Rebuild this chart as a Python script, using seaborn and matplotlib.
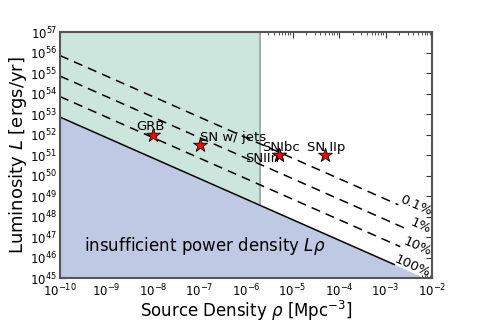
import numpy as np
import matplotlib
matplotlib.use("Agg")
import matplotlib.pyplot as plt
import matplotlib.ticker as mticker
import seaborn as sns

# power density normalisation (L * rho at 100%)
L_rho_100 = 10**42.85
fractions = [1.0, 0.1, 0.01, 0.001]
frac_labels = ["100%", "10%", "1%", "0.1%"]
frac_styles = ["-", "--", "--", "--"]

# sources
src_names = ["GRB", "SN w/ jets", "SNIbc", "SNIIn", "SN IIp"]
src_rho = [1e-8, 1e-7, 5e-6, 5e-6, 5e-5]
src_L = [1e52, 3e51, 1e51, 1e51, 1e51]

rho_cut = 2e-6  # edge of shaded region

sns.set_style("ticks")
plt.rcParams["font.family"] = ["DejaVu Sans"]
plt.rcParams["mathtext.fontset"] = "dejavusans"
plt.rcParams["text.color"] = "black"
plt.rcParams["axes.labelcolor"] = "black"
plt.rcParams["xtick.color"] = "black"
plt.rcParams["ytick.color"] = "black"

fig, ax = plt.subplots(figsize=(4.8, 3.2), dpi=100)
fig.subplots_adjust(left=0.125, right=0.9, top=0.9, bottom=0.131)
ax.set_xscale("log")
ax.set_yscale("log")

rho = np.logspace(-10, -2, 200)
L100 = L_rho_100 / rho

# shaded regions
ax.fill_between(rho, 1e45, L100, color="#bfc9e3", lw=0, zorder=1)
m = rho <= rho_cut
rho_g = np.append(rho[m], rho_cut)
ax.fill_between(rho_g, L_rho_100 / rho_g, 1e57, color="#cce6de", lw=0, zorder=1)
ax.plot([rho_cut, rho_cut], [L_rho_100 / rho_cut, 1e57], color="#8fa8a0", lw=1.2, zorder=2)

# efficiency lines with labels at the right end
label_pos = {"100%": (10**-2.42, 10**45.55), "10%": (10**-2.31, 10**46.55),
             "1%": (10**-2.24, 10**47.55), "0.1%": (10**-2.35, 10**48.55)}
for f, lab, ls in zip(fractions, frac_labels, frac_styles):
    lx, ly = label_pos[lab]
    rr = rho[rho <= lx / 10**0.35]
    sns.lineplot(x=rr, y=L_rho_100 / (f * rr), ax=ax, color="black", lw=1.1,
                 linestyle=ls, estimator=None, sort=False, zorder=3)
    if ls == "--":
        ax.lines[-1].set_dashes((6, 4))
    ax.text(lx, ly, lab, rotation=-23.7, ha="center", va="center",
            fontsize=9.5, rotation_mode="anchor", zorder=4)

sns.scatterplot(x=src_rho, y=src_L, ax=ax, marker="*", s=110, color="red",
                edgecolor="black", linewidth=0.6, zorder=5)

offsets = {"GRB": (-12, 3), "SN w/ jets": (0, 3), "SNIbc": (-12, 3),
           "SNIIn": (-24, -5), "SN IIp": (-13, 3)}
for n, x, y in zip(src_names, src_rho, src_L):
    ax.annotate(n, (x, y), xytext=offsets[n], textcoords="offset points",
                fontsize=9.5, zorder=6)

ax.text(3.3e-10, 10**46.3, r"insufficient power density $L\rho$", fontsize=12, zorder=6)

ax.set_xlim(1e-10, 1e-2)
ax.set_ylim(1e45, 1e57)
ax.xaxis.set_major_locator(mticker.LogLocator(base=10, numticks=20))
ax.xaxis.set_minor_locator(mticker.LogLocator(base=10, subs=np.arange(2, 10), numticks=20))
ax.yaxis.set_major_locator(mticker.LogLocator(base=10, numticks=20))
ax.yaxis.set_minor_locator(mticker.NullLocator())
ax.tick_params(which="both", direction="in", top=True, right=True, labelsize=8.5,
               color="#333333")
ax.tick_params(which="major", length=4)
ax.tick_params(which="minor", length=2)
ax.tick_params(axis="x", pad=3)
ax.tick_params(axis="y", pad=2)
for s in ax.spines.values():
    s.set_color("#555555")
    s.set_linewidth(1.5)
    s.set_zorder(7)

ax.set_xlabel(r"Source Density $\rho$ [Mpc$^{-3}$]", fontsize=12, labelpad=0)
ax.set_ylabel(r"Luminosity $L$ [ergs/yr]", fontsize=13, labelpad=1)

fig.savefig("out.png", dpi=100)
